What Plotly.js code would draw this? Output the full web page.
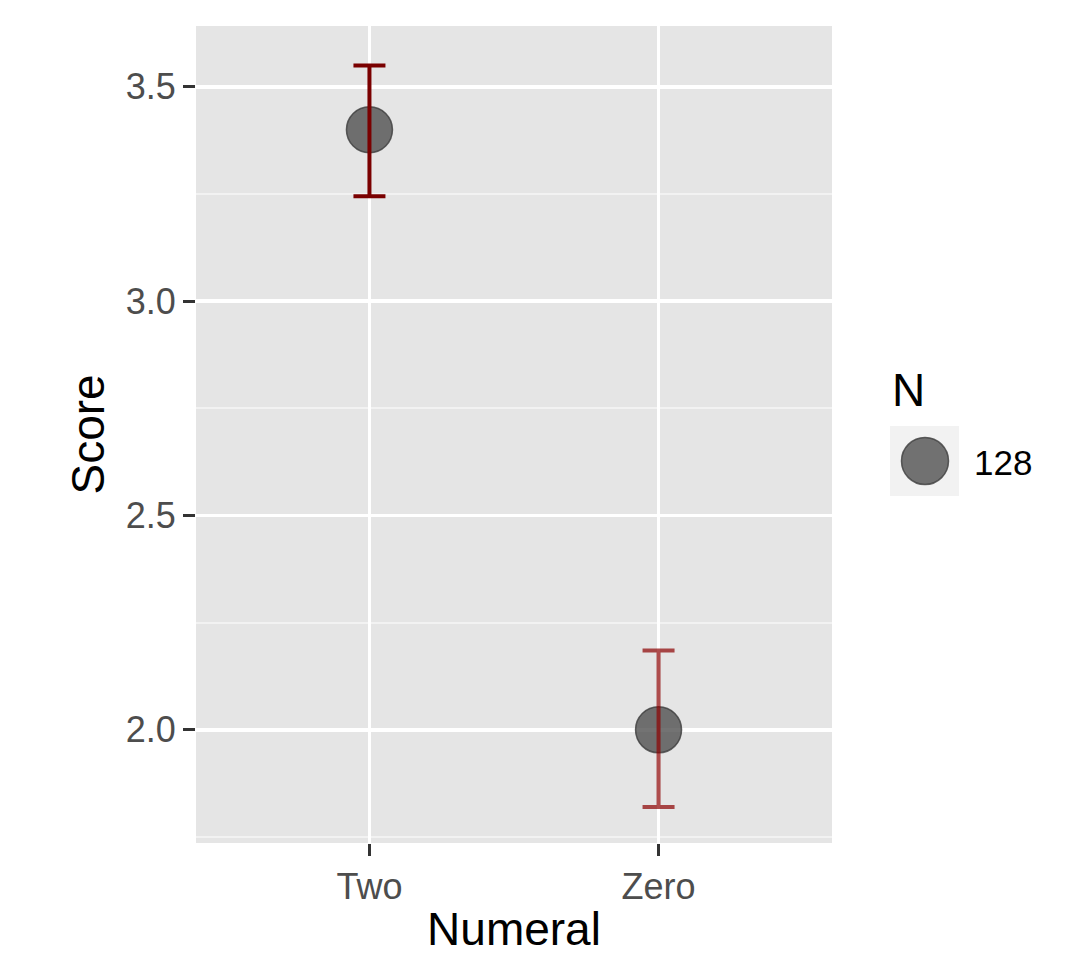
<!DOCTYPE html>
<html>
<head>
<meta charset="utf-8">
<script src="https://cdn.plot.ly/plotly-3.0.1.min.js"></script>
<style>html,body{margin:0;padding:0;background:#fff;}#chart{width:1086px;height:955px;}</style>
</head>
<body>
<div id="chart"></div>
<script>
// ---- data ----
const categories = ['Two', 'Zero'];
const means = [3.40, 2.00];
const ciUpper = [3.55, 2.185];
const ciLower = [3.245, 1.82];
const legendTitle = 'N';
const legendLabels = ['128'];
const xTitle = 'Numeral';
const yTitle = 'Score';

// ---- styles ----
const errColors = ['#7a0000', 'rgba(139,0,0,0.7)'];
const font = 'Liberation Sans, Arial, sans-serif';

const traces = [];
traces.push({
  type: 'scatter', mode: 'markers',
  x: categories, y: means,
  marker: {size: 46, color: 'rgba(80,80,80,0.8)', line: {color: 'rgba(60,60,60,0.8)', width: 1.5}},
  showlegend: false, hoverinfo: 'x+y'
});
categories.forEach((c, i) => {
  traces.push({
    type: 'scatter', mode: 'markers',
    x: [c], y: [means[i]],
    marker: {size: 1, opacity: 0},
    error_y: {type: 'data', symmetric: false,
      array: [ciUpper[i] - means[i]], arrayminus: [means[i] - ciLower[i]],
      color: errColors[i], thickness: 4, width: 16},
    showlegend: false, hoverinfo: 'skip'
  });
});

// pixel -> paper helpers for manual legend
const L = 196, R = 832, T = 26, B = 843, W = 1086, H = 955;
const px = v => (v - L) / (R - L);
const py = v => (B - v) / (B - T);

const layout = {
  width: W, height: H,
  margin: {l: L, r: W - R, t: T, b: H - B},
  paper_bgcolor: '#ffffff',
  plot_bgcolor: '#e5e5e5',
  font: {family: font},
  showlegend: false,
  xaxis: {
    type: 'category', categoryorder: 'array', categoryarray: categories,
    range: [-0.6, 1.6],
    showgrid: true, gridcolor: '#ffffff', gridwidth: 3.5,
    zeroline: false, showline: false,
    ticks: 'outside', ticklen: 12, tickwidth: 3, tickcolor: '#333333',
    tickfont: {size: 36, color: '#4d4d4d', family: font},
    title: {text: xTitle, font: {size: 46, color: '#000000', family: font}},
    automargin: false, fixedrange: true
  },
  yaxis: {
    range: [1.736, 3.642],
    tickmode: 'array', tickvals: [2.0, 2.5, 3.0, 3.5], ticktext: ['2.0', '2.5', '3.0', '3.5'],
    showgrid: true, gridcolor: '#ffffff', gridwidth: 3.5,
    minor: {tickmode: 'array', tickvals: [1.75, 2.25, 2.75, 3.25], showgrid: true, gridcolor: '#f2f2f2', gridwidth: 2, ticks: ''},
    zeroline: false, showline: false,
    ticks: 'outside', ticklen: 12, tickwidth: 3, tickcolor: '#333333',
    tickfont: {size: 36, color: '#4d4d4d', family: font},
    title: {text: '', font: {size: 46, color: '#000000', family: font}},
    automargin: false, fixedrange: true
  },
  shapes: [
    {type: 'rect', xref: 'paper', yref: 'paper', x0: px(890), x1: px(959), y0: py(496), y1: py(426),
      fillcolor: '#f2f2f2', line: {width: 0}, layer: 'above'},
    {type: 'circle', xref: 'paper', yref: 'paper', x0: px(901.5), x1: px(948.5), y0: py(484.5), y1: py(437.5),
      fillcolor: 'rgba(80,80,80,0.8)', line: {color: 'rgba(60,60,60,0.8)', width: 1.5}, layer: 'above'}
  ],
  annotations: [
    {xref: 'paper', yref: 'paper', x: px(87), y: 0.5, xanchor: 'center', yanchor: 'middle', textangle: -90,
      text: yTitle, showarrow: false, font: {size: 46, color: '#000000', family: font}},
    {xref: 'paper', yref: 'paper', x: px(890), y: py(390), xanchor: 'left', yanchor: 'middle',
      text: legendTitle, showarrow: false, font: {size: 46, color: '#000000', family: font}},
    {xref: 'paper', yref: 'paper', x: px(972), y: py(462), xanchor: 'left', yanchor: 'middle',
      text: legendLabels[0], showarrow: false, font: {size: 35, color: '#000000', family: font}}
  ]
};

Plotly.newPlot('chart', traces, layout, {displayModeBar: false, staticPlot: true});
</script>
</body>
</html>
